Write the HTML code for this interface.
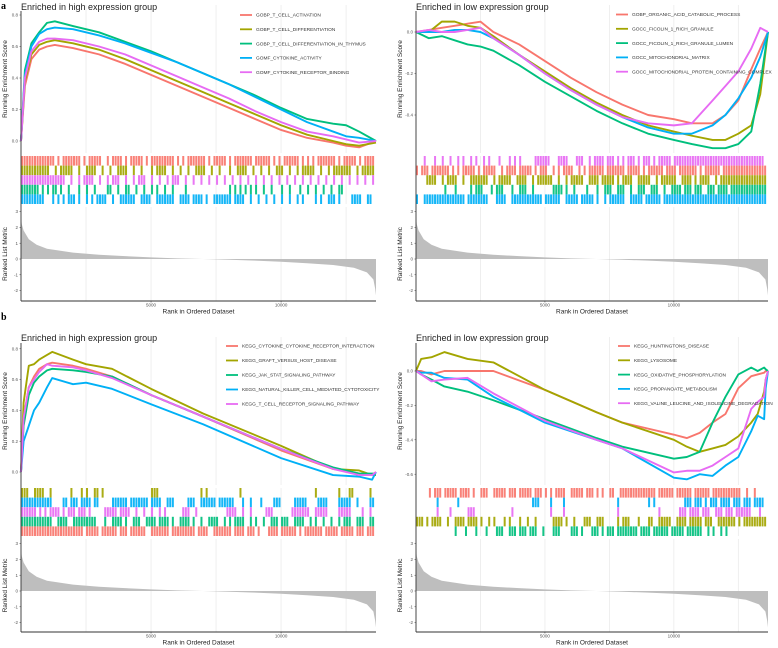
<!DOCTYPE html>
<html><head><meta charset="utf-8">
<style>
html,body{margin:0;padding:0;background:#fff;}
svg{display:block;font-family:"Liberation Sans",Arial,sans-serif;}
</style></head>
<body>
<svg id="fig" width="778" height="648" viewBox="0 0 778 648" xmlns="http://www.w3.org/2000/svg">
<text x="1" y="9" font-family="Liberation Serif,serif" font-weight="bold" font-size="10">a</text>
<text x="1" y="320" font-family="Liberation Serif,serif" font-weight="bold" font-size="10">b</text>
</svg>
<script>
const COLORS = {red:"#F8766D", olive:"#A3A500", green:"#00BF7D", blue:"#00B0F6", magenta:"#E76BF3"};
const N_RANK = 13650;
const xTicks = [5000, 10000];
const xGrid = [2500, 5000, 7500, 10000, 12500];
const metricTicks = [-2, -1, 0, 1, 2, 3];

const metricRanks = [0, 30, 100, 300, 600, 1000, 2000, 3000, 4000, 5000, 6000, 7000, 8000, 9000, 10000, 11000, 12000, 12800, 13300, 13550, 13620, 13650];
const metricValues = [2.7, 2.2, 1.8, 1.25, 0.9, 0.65, 0.4, 0.27, 0.18, 0.1, 0.04, 0.0, -0.05, -0.1, -0.17, -0.27, -0.38, -0.55, -0.85, -1.3, -1.9, -2.3];

const aLeftNames = ["GOBP_T_CELL_ACTIVATION","GOBP_T_CELL_DIFFERENTIATION","GOBP_T_CELL_DIFFERENTIATION_IN_THYMUS","GOMF_CYTOKINE_ACTIVITY","GOMF_CYTOKINE_RECEPTOR_BINDING"];
const aLeftRanks = [0,150,400,700,1000,1300,2000,3000,4000,5000,6000,7000,8000,9000,10000,11000,12000,12500,13000,13650];
const aLeftRed = [0,0.35,0.52,0.58,0.6,0.61,0.59,0.55,0.49,0.42,0.35,0.28,0.21,0.14,0.07,0.02,-0.01,-0.03,-0.04,0];
const aLeftOlive = [0,0.38,0.55,0.61,0.63,0.64,0.62,0.58,0.52,0.45,0.38,0.31,0.24,0.17,0.10,0.04,0.0,-0.02,-0.03,-0.01];
const aLeftGreen = [0,0.45,0.62,0.69,0.75,0.76,0.73,0.69,0.63,0.57,0.50,0.43,0.36,0.29,0.21,0.14,0.11,0.10,0.06,0.0];
const aLeftBlue = [0,0.42,0.60,0.68,0.71,0.72,0.71,0.67,0.62,0.56,0.50,0.43,0.36,0.28,0.20,0.12,0.06,0.03,0.02,0.0];
const aLeftMagenta = [0,0.40,0.57,0.63,0.65,0.65,0.64,0.60,0.55,0.48,0.41,0.34,0.27,0.19,0.12,0.06,0.03,0.01,-0.01,0];
const aLeftHitsRed = [[0,12],14,[16,22],24,[26,30],33,[35,38],40,[42,46],48,[50,58],60,62,[64,70],72,[74,78],80,[82,88],[90,95],97,99,[101,106],108,110,112,[114,120],122,[124,128],130,[132,135]];
const aLeftHitsOlive = [[0,10],13,[15,19],22,[25,28],31,34,[37,40],43,46,50,[52,55],58,61,64,[67,70],73,76,80,[83,86],89,92,95,[98,100],103,106,[108,112],115,118,[120,126],129,[131,135]];
const aLeftHitsMagenta = [[0,16],19,22,[24,27],30,33,[35,37],40,43,[45,47],50,53,56,[58,60],63,66,69,72,75,78,81,84,87,90,93,96,99,102,105,108,111,114,117,120,123,126,129,132,135];
const aLeftHitsGreen = [[0,6],8,10,12,13,15,18,22,25,28,33,34,37,40,41,44,47,50,52,55,58,63,80,82,84,86,88,90,93,96,100,103,107,110,113,116,119,122,123];
const aLeftHitsBlue = [[0,8],12,14,16,[18,20],22,25,27,[29,32],35,[38,43],[46,49],[52,58],[61,64],[66,69],71,[74,80],[82,85],88,91,94,97,100,103,106,108,113,115,[118,120],122,[127,130],[133,134]];

const aRightNames = ["GOBP_ORGANIC_ACID_CATABOLIC_PROCESS","GOCC_FICOLIN_1_RICH_GRANULE","GOCC_FICOLIN_1_RICH_GRANULE_LUMEN","GOCC_MITOCHONDRIAL_MATRIX","GOCC_MITOCHONDRIAL_PROTEIN_CONTAINING_COMPLEX"];
const aRightRanks = [0,500,1000,1500,2000,2500,3000,4000,5000,6000,7000,8000,9000,10000,10700,11500,12000,12500,13000,13350,13650];
const aRightRed = [0,0.01,0.02,0.03,0.04,0.05,0.0,-0.06,-0.14,-0.22,-0.29,-0.35,-0.40,-0.42,-0.44,-0.44,-0.40,-0.33,-0.18,-0.08,0];
const aRightOlive = [0,0.0,0.05,0.05,0.03,0.02,-0.02,-0.11,-0.19,-0.27,-0.34,-0.40,-0.45,-0.48,-0.50,-0.52,-0.52,-0.49,-0.45,-0.30,0];
const aRightGreen = [0,-0.03,-0.02,-0.04,-0.06,-0.07,-0.09,-0.16,-0.24,-0.31,-0.38,-0.44,-0.49,-0.52,-0.54,-0.56,-0.56,-0.54,-0.48,-0.25,0];
const aRightBlue = [0,0.0,0.0,0.01,0.01,0.0,-0.03,-0.11,-0.20,-0.28,-0.35,-0.41,-0.46,-0.49,-0.49,-0.45,-0.40,-0.32,-0.22,-0.12,0];
const aRightMagenta = [0,0.01,0.0,0.0,0.01,0.02,-0.03,-0.11,-0.20,-0.28,-0.35,-0.41,-0.44,-0.45,-0.44,-0.33,-0.26,-0.19,-0.08,0.02,0];
const aRightHitsMagenta = [3,7,10,13,16,18,21,23,26,28,32,36,38,40,[46,51],[55,58],[62,64],67,[69,72],[74,76],78,80,[82,84],86,[88,90],92,[94,98],[100,134]];
const aRightHitsRed = [0,[2,4],[6,12],14,16,[18,22],24,[26,30],33,[35,38],[40,44],46,[48,50],53,55,[57,60],63,65,[67,72],[74,80],[82,86],88,[90,95],[97,100],[102,108],110,[112,117],[119,135]];
const aRightHitsOlive = [[4,7],10,[12,15],18,[21,27],30,[32,36],[39,42],45,[47,52],55,58,[60,64],[67,70],[72,76],78,[80,83],[86,90],93,[95,100],[103,106],108,[110,113],116,[118,135]];
const aRightHitsGreen = [11,15,21,[23,25],29,[31,33],37,[40,42],45,[53,56],58,61,66,70,[73,75],[78,80],83,[86,88],[91,93],96,[99,102],[104,106],[108,110],[113,115],[117,120],[122,135]];
const aRightHitsBlue = [0,[3,18],[20,27],[31,34],[37,48],[50,55],[58,62],[64,68],70,73,[75,80],[83,87],[89,94],[96,135]];

const bLeftNames = ["KEGG_CYTOKINE_CYTOKINE_RECEPTOR_INTERACTION","KEGG_GRAFT_VERSUS_HOST_DISEASE","KEGG_JAK_STAT_SIGNALING_PATHWAY","KEGG_NATURAL_KILLER_CELL_MEDIATED_CYTOTOXICITY","KEGG_T_CELL_RECEPTOR_SIGNALING_PATHWAY"];
const bLeftRanks = [0,100,300,500,700,1000,1200,2000,2500,3500,5000,7000,10000,12000,13000,13500,13650];
const bLeftRed = [0,0.35,0.55,0.62,0.67,0.70,0.71,0.69,0.67,0.62,0.50,0.36,0.14,0.02,-0.01,-0.02,0];
const bLeftOlive = [0,0.45,0.69,0.70,0.73,0.76,0.78,0.73,0.70,0.67,0.54,0.38,0.17,0.02,0.01,-0.02,-0.02];
const bLeftGreen = [0,0.3,0.5,0.58,0.62,0.66,0.67,0.66,0.65,0.62,0.50,0.36,0.15,0.03,-0.01,-0.01,-0.01];
const bLeftBlue = [0,0.2,0.3,0.4,0.45,0.55,0.61,0.57,0.58,0.54,0.44,0.31,0.09,-0.02,-0.03,-0.05,0];
const bLeftMagenta = [0,0.35,0.55,0.6,0.65,0.70,0.69,0.68,0.66,0.61,0.50,0.36,0.15,0.02,-0.02,-0.02,0];
const bLeftHitsOlive = [[0,2],5,6,7,8,11,19,23,25,28,29,31,[50,52],69,71,84,113,122,126,127,134];
const bLeftHitsBlue = [[0,11],16,17,[19,21],[23,26],28,29,[35,40],[42,48],[50,53],[56,58],[64,66],[69,74],[76,81],85,88,92,[97,99],[105,109],[114,117],[122,126],129,[134,135]];
const bLeftHitsMagenta = [[0,5],7,9,[11,14],16,[18,20],[22,24],26,[32,36],[38,41],44,47,50,53,55,[62,64],67,[79,82],85,88,[94,96],[104,110],[113,117],[122,126],131,134];
const bLeftHitsGreen = [[0,11],[14,17],[20,28],32,[35,38],40,[43,45],[48,51],[53,56],58,[61,64],66,69,[72,75],78,80,[82,85],88,90,93,[96,98],[100,102],[105,108],111,113,116,119,122,[124,126],[129,131],134,135];
const bLeftHitsRed = [[0,23],[25,29],[31,36],[38,40],[42,47],[50,56],[58,66],[68,71],[74,80],[82,85],[87,89],91,[95,98],[100,105],107,[109,115],[117,121],[123,127],[129,131],[133,135]];

const bRightNames = ["KEGG_HUNTINGTONS_DISEASE","KEGG_LYSOSOME","KEGG_OXIDATIVE_PHOSPHORYLATION","KEGG_PROPANOATE_METABOLISM","KEGG_VALINE_LEUCINE_AND_ISOLEUCINE_DEGRADATION"];
const bRightRanks = [0,200,600,1100,2000,3000,5000,7000,8000,10000,10500,11000,11500,12000,12500,13000,13250,13500,13560,13650];
const bRightRed = [0,0.0,-0.02,0.0,0.0,0.0,-0.11,-0.24,-0.30,-0.37,-0.39,-0.36,-0.30,-0.25,-0.10,-0.03,-0.02,-0.01,0.0,0];
const bRightOlive = [0,0.07,0.08,0.11,0.07,0.05,-0.11,-0.24,-0.30,-0.40,-0.44,-0.47,-0.45,-0.43,-0.38,-0.30,-0.25,-0.12,-0.05,0];
const bRightGreen = [0,-0.02,-0.05,-0.09,-0.12,-0.17,-0.28,-0.39,-0.44,-0.51,-0.50,-0.47,-0.30,-0.15,-0.02,0.02,0.0,0.02,0.01,0];
const bRightBlue = [0,-0.01,-0.01,-0.04,-0.05,-0.15,-0.30,-0.40,-0.45,-0.62,-0.63,-0.60,-0.61,-0.55,-0.50,-0.35,-0.26,-0.28,-0.1,0];
const bRightMagenta = [0,-0.02,-0.06,-0.05,-0.04,-0.13,-0.29,-0.40,-0.45,-0.59,-0.58,-0.58,-0.55,-0.50,-0.45,-0.22,-0.18,-0.15,-0.05,0];
const bRightHitsRed = [5,[7,9],[11,15],[17,20],22,[25,27],[30,34],[36,38],[40,44],[46,48],50,52,[54,57],[60,64],[66,68],70,72,[75,76],[79,92],[94,99],[101,106],[108,113],[115,125],128,131];
const bRightHitsBlue = [8,16,[45,47],52,57,78,90,92,[104,106],[108,110],112,[114,116],[118,121],[123,125],[127,129],[131,134]];
const bRightHitsMagenta = [8,13,20,[21,22],37,52,57,78,94,[102,104],[106,109],[111,113],[116,118],[120,122],[124,129],133];
const bRightHitsOlive = [[0,2],4,6,[7,9],12,[15,18],[20,23],25,28,30,34,36,40,43,46,[53,56],58,61,[65,67],[70,72],78,[80,82],86,[90,91],[94,98],[101,104],[106,110],[112,114],[117,123],125,[127,135]];
const bRightHitsGreen = [15,19,23,27,[31,33],[36,38],[40,42],[44,46],49,[53,55],[60,62],64,[68,70],72,[74,76],[78,85],[87,90],[92,97],[99,103],[105,110],113,115,118,120];

const NS = "http://www.w3.org/2000/svg";
const svg = document.getElementById("fig");
function mk(tag, attrs, parent) {
  const e = document.createElementNS(NS, tag);
  for (const k in attrs) e.setAttribute(k, attrs[k]);
  (parent || svg).appendChild(e);
  return e;
}
function expand(list) {
  const out = [];
  list.forEach(v => { if (Array.isArray(v)) { for (let i = v[0]; i <= v[1]; i++) out.push(i); } else out.push(v); });
  return out;
}

function drawPanel(cfg) {
  const g = mk("g", {});
  
  
  const xs = r => cfg.left + (r / N_RANK) * (cfg.right - cfg.left);
  const ys = v => cfg.esZero - v * cfg.esScale;
  const ym = v => cfg.mZero - v * cfg.mScale;
  [[cfg.esTop, cfg.esBot], [cfg.rugTop, cfg.rugTop + 48], [cfg.mTop, cfg.mBot]].forEach(sp => {
    xGrid.forEach(r => {
      const l = mk("line", {x1: xs(r), x2: xs(r), y1: sp[0], y2: sp[1], stroke: "#ebebeb", "stroke-width": 0.8}, g);
      
      
    });
  });
  const t = mk("text", {x: cfg.left, y: cfg.titleY, "font-size": 9, fill: "#222"}, g);
  t.textContent = cfg.title;
  
  
  cfg.esTicks.forEach(v => {
    const tx = mk("text", {x: cfg.left - 3, y: ys(v) + 1.6, "font-size": 4.5, fill: "#555", "text-anchor": "end"}, g);
    tx.textContent = v.toFixed(1);
    
    
    mk("line", {x1: cfg.left - 1.5, x2: cfg.left, y1: ys(v), y2: ys(v), stroke: "#333", "stroke-width": 0.5}, g);
  });
  const yl = mk("text", {x: 0, y: 0, "font-size": 6.5, fill: "#222", "text-anchor": "middle", transform: `translate(${cfg.left - 14},${(cfg.esTop + cfg.esBot) / 2}) rotate(-90)`}, g);
  yl.textContent = "Running Enrichment Score";
  
  
  cfg.series.forEach((s, i) => {
    const pts = cfg.ranks.map((r, j) => xs(r).toFixed(2) + "," + ys(s.vals[j]).toFixed(2)).join(" ");
    const pl = mk("polyline", {points: pts, fill: "none", stroke: COLORS[s.color], "stroke-width": 1.9, "stroke-linejoin": "round"}, g);
    
    
  });
  cfg.series.forEach((s, i) => {
    const ly = cfg.legY + i * cfg.legStep;
    const ll = mk("line", {x1: cfg.legX, x2: cfg.legX + 12, y1: ly, y2: ly, stroke: COLORS[s.color], "stroke-width": 1.8}, g);
    
    
    const lt = mk("text", {x: cfg.legX + 16, y: ly + 1.7, "font-size": 4.8, fill: "#333"}, g);
    lt.textContent = s.name;
    
    
  });
  cfg.rug.forEach((row, i) => {
    const y0 = cfg.rugTop + i * 9.6;
    expand(row.hits).forEach(h => {
      const r = mk("rect", {x: xs(h * 100), y: y0, width: 2.0, height: 9.6, fill: COLORS[row.color], opacity: 0.92}, g);
      
      
    });
  });
  let d = `M${xs(metricRanks[0])},${ym(0)} `;
  metricRanks.forEach((r, j) => { d += `L${xs(r).toFixed(2)},${ym(metricValues[j]).toFixed(2)} `; });
  d += `L${xs(metricRanks[metricRanks.length - 1])},${ym(0)} Z`;
  const ar = mk("path", {d: d, fill: "#bebebe", stroke: "none"}, g);
  
  
  metricTicks.forEach(v => {
    const tx = mk("text", {x: cfg.left - 3, y: ym(v) + 1.6, "font-size": 4.5, fill: "#555", "text-anchor": "end"}, g);
    tx.textContent = v;
    
    
    mk("line", {x1: cfg.left - 1.5, x2: cfg.left, y1: ym(v), y2: ym(v), stroke: "#333", "stroke-width": 0.5}, g);
  });
  const ml = mk("text", {x: 0, y: 0, "font-size": 6.5, fill: "#222", "text-anchor": "middle", transform: `translate(${cfg.left - 14},${(cfg.mTop + cfg.mBot) / 2}) rotate(-90)`}, g);
  ml.textContent = "Ranked List Metric";
  
  
  mk("line", {x1: cfg.left, x2: cfg.left, y1: cfg.esTop + 6, y2: cfg.mBot, stroke: "#333", "stroke-width": 0.9}, g);
  mk("line", {x1: cfg.left, x2: cfg.right, y1: cfg.mBot, y2: cfg.mBot, stroke: "#333", "stroke-width": 0.9}, g);
  xTicks.forEach(r => {
    mk("line", {x1: xs(r), x2: xs(r), y1: cfg.mBot, y2: cfg.mBot + 1.5, stroke: "#333", "stroke-width": 0.5}, g);
    const tx = mk("text", {x: xs(r), y: cfg.mBot + 5.5, "font-size": 4.5, fill: "#555", "text-anchor": "middle"}, g);
    tx.textContent = r;
    
    
  });
  const xl = mk("text", {x: (cfg.left + cfg.right) / 2, y: cfg.mBot + 12.5, "font-size": 6.5, fill: "#222", "text-anchor": "middle"}, g);
  xl.textContent = "Rank in Ordered Dataset";
  
  
}

const mkSeries = (names, cols, vals) => names.map((n, i) => ({name: n, color: cols[i], vals: vals[i]}));
const ORDER = ["red", "olive", "green", "blue", "magenta"];

drawPanel({id: "panel-a-high", left: 21, right: 376, title: "Enriched in high expression group", titleY: 10,
  esTop: 5, esBot: 153, esZero: 141, esScale: 157.5, esTicks: [0, 0.2, 0.4, 0.6, 0.8],
  ranks: aLeftRanks, series: mkSeries(aLeftNames, ORDER, [aLeftRed, aLeftOlive, aLeftGreen, aLeftBlue, aLeftMagenta]),
  legX: 240, legY: 15, legStep: 14.3,
  rugTop: 156, rug: [{color: "red", hits: aLeftHitsRed}, {color: "olive", hits: aLeftHitsOlive}, {color: "magenta", hits: aLeftHitsMagenta}, {color: "green", hits: aLeftHitsGreen}, {color: "blue", hits: aLeftHitsBlue}],
  mTop: 207, mBot: 301, mZero: 259, mScale: 15.8});

drawPanel({id: "panel-a-low", left: 416, right: 768, title: "Enriched in low expression group", titleY: 10,
  esTop: 5, esBot: 153, esZero: 32, esScale: 207.5, esTicks: [0, -0.2, -0.4],
  ranks: aRightRanks, series: mkSeries(aRightNames, ORDER, [aRightRed, aRightOlive, aRightGreen, aRightBlue, aRightMagenta]),
  legX: 616, legY: 14.5, legStep: 14.3,
  rugTop: 156, rug: [{color: "magenta", hits: aRightHitsMagenta}, {color: "red", hits: aRightHitsRed}, {color: "olive", hits: aRightHitsOlive}, {color: "green", hits: aRightHitsGreen}, {color: "blue", hits: aRightHitsBlue}],
  mTop: 207, mBot: 301, mZero: 259, mScale: 15.8});

drawPanel({id: "panel-b-high", left: 21, right: 376, title: "Enriched in high expression group", titleY: 341,
  esTop: 337, esBot: 485, esZero: 472, esScale: 154, esTicks: [0, 0.2, 0.4, 0.6, 0.8],
  ranks: bLeftRanks, series: mkSeries(bLeftNames, ORDER, [bLeftRed, bLeftOlive, bLeftGreen, bLeftBlue, bLeftMagenta]),
  legX: 226, legY: 346, legStep: 14.5,
  rugTop: 488, rug: [{color: "olive", hits: bLeftHitsOlive}, {color: "blue", hits: bLeftHitsBlue}, {color: "magenta", hits: bLeftHitsMagenta}, {color: "green", hits: bLeftHitsGreen}, {color: "red", hits: bLeftHitsRed}],
  mTop: 539, mBot: 632, mZero: 591, mScale: 15.8});

drawPanel({id: "panel-b-low", left: 416, right: 768, title: "Enriched in low expression group", titleY: 341,
  esTop: 337, esBot: 485, esZero: 371, esScale: 172, esTicks: [0, -0.2, -0.4, -0.6],
  ranks: bRightRanks, series: mkSeries(bRightNames, ORDER, [bRightRed, bRightOlive, bRightGreen, bRightBlue, bRightMagenta]),
  legX: 618, legY: 346, legStep: 14.3,
  rugTop: 488, rug: [{color: "red", hits: bRightHitsRed}, {color: "blue", hits: bRightHitsBlue}, {color: "magenta", hits: bRightHitsMagenta}, {color: "olive", hits: bRightHitsOlive}, {color: "green", hits: bRightHitsGreen}],
  mTop: 539, mBot: 632, mZero: 591, mScale: 15.8});
</script>
</body></html>
